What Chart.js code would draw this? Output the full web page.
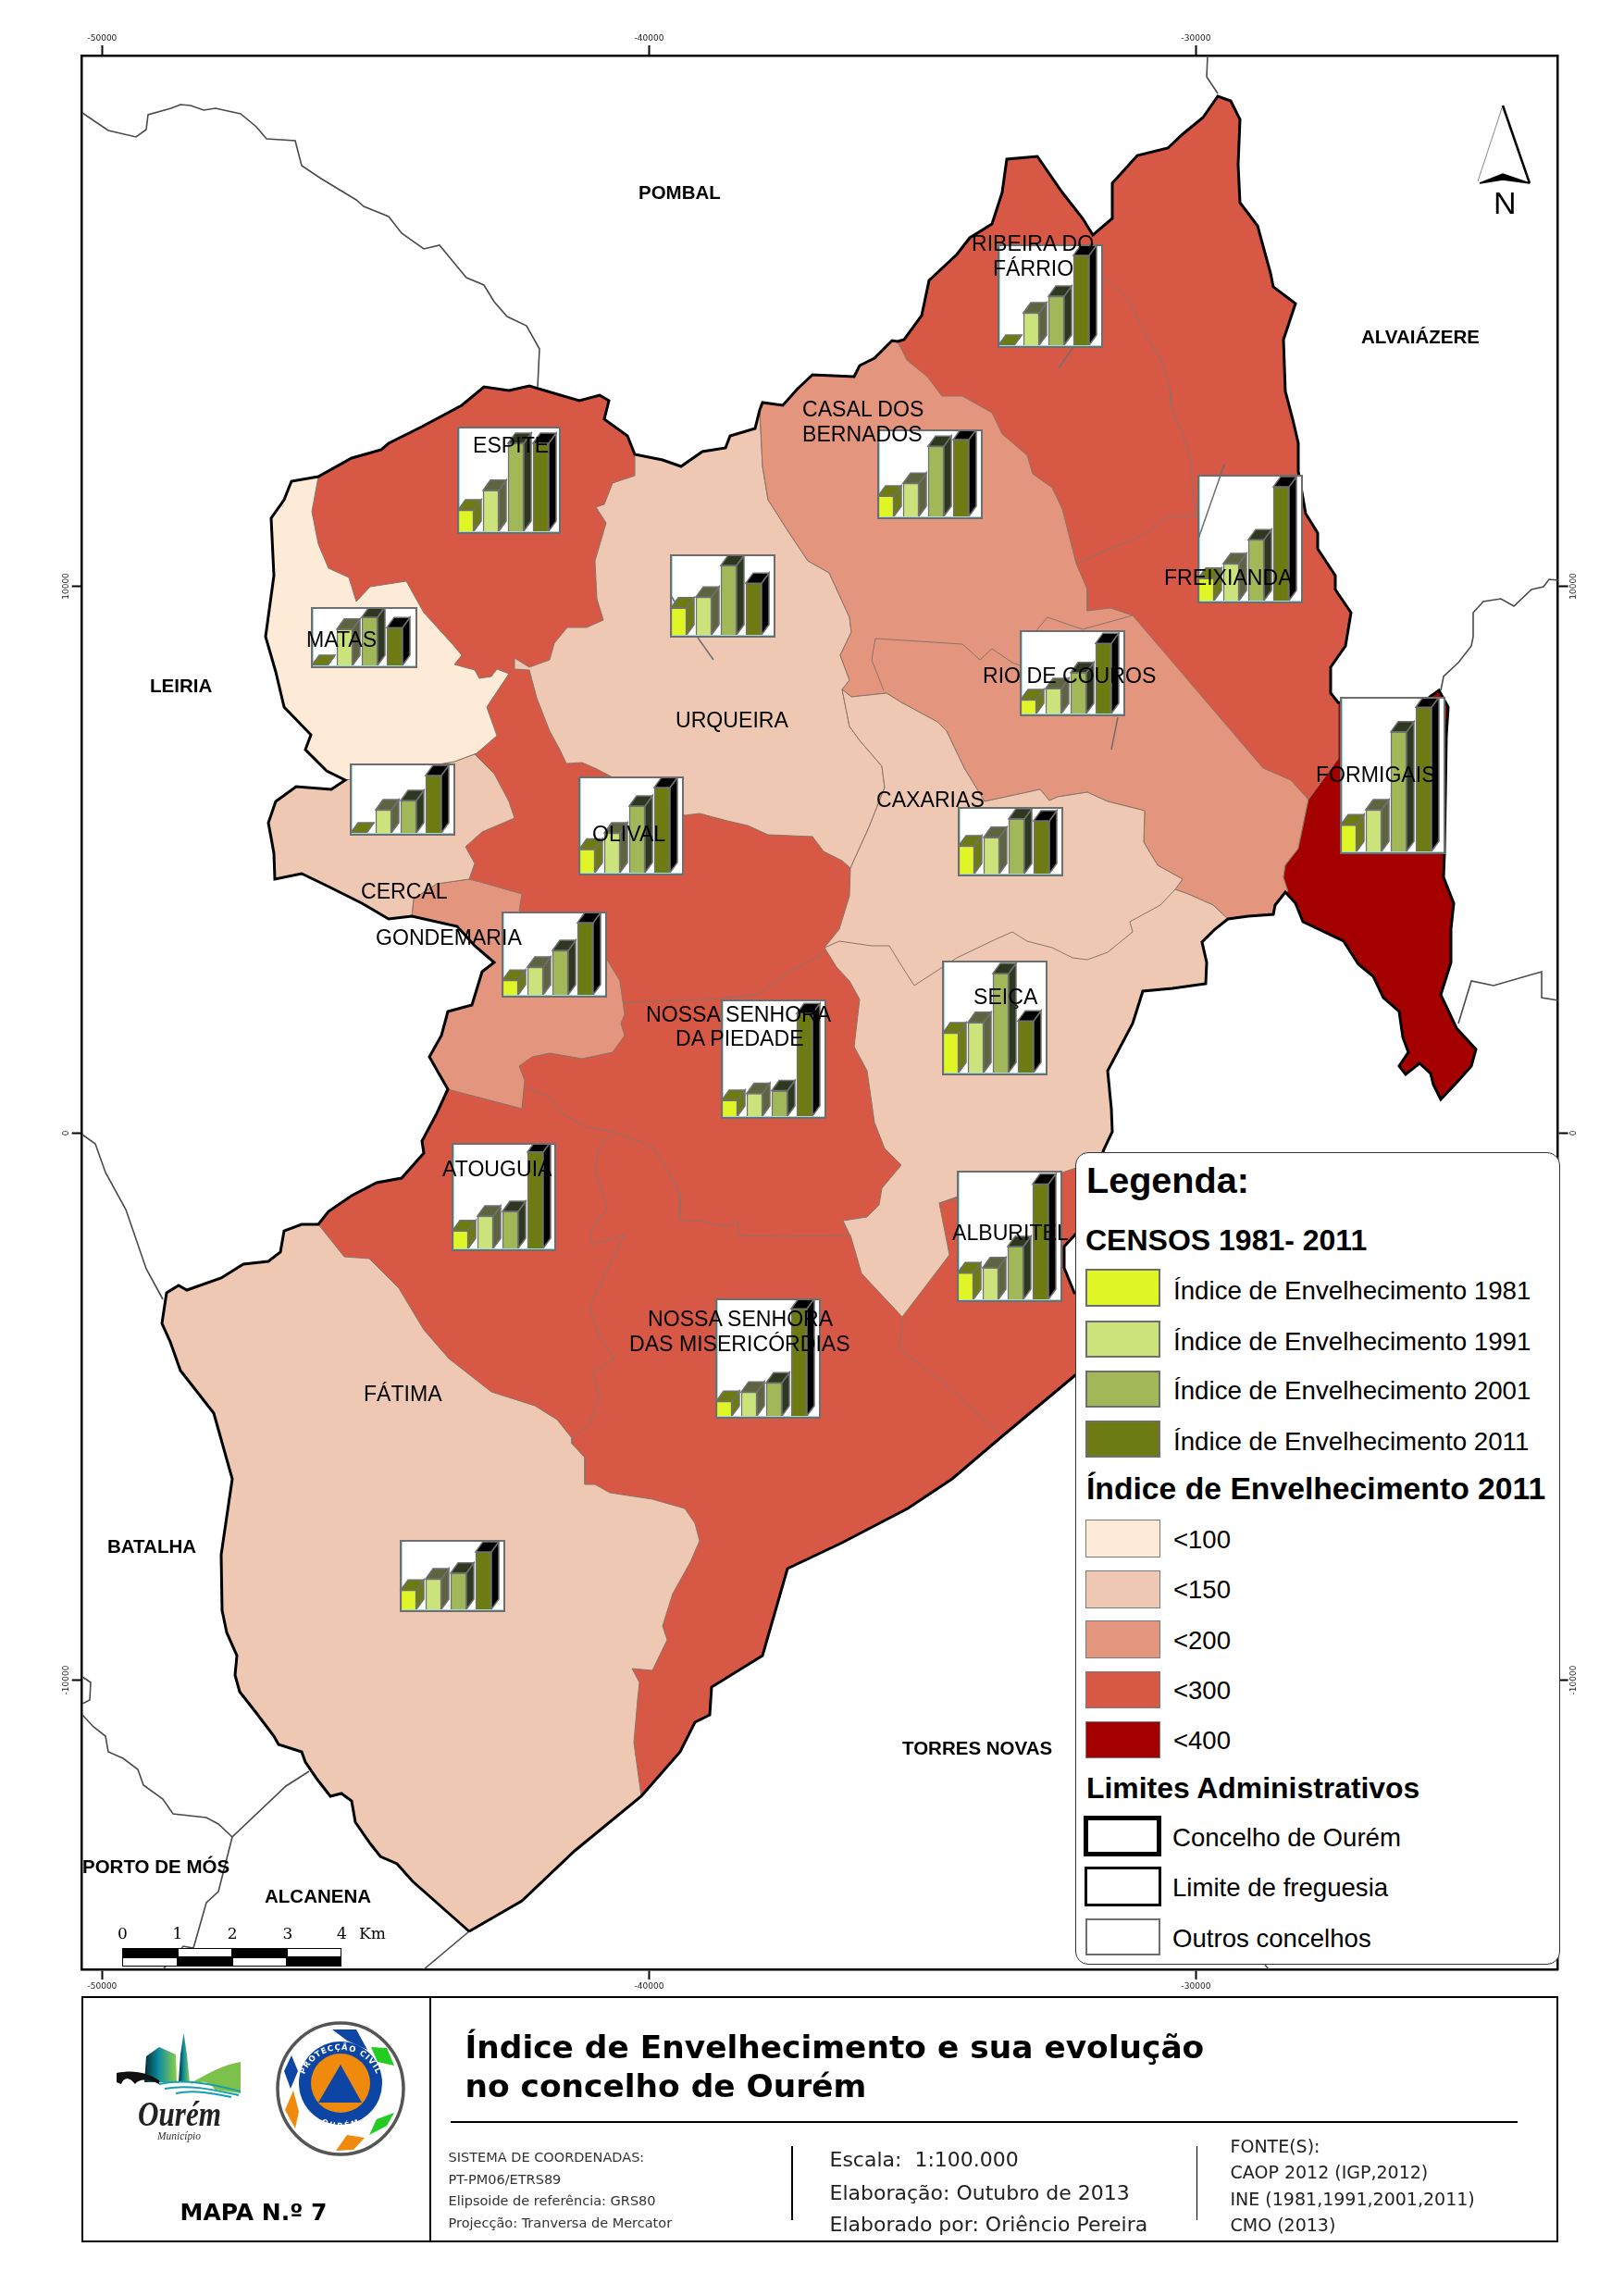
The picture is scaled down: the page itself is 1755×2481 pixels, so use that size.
<!DOCTYPE html>
<html lang="pt">
<head>
<meta charset="utf-8">
<title>Índice de Envelhecimento e sua evolução no concelho de Ourém</title>
<script src="https://cdn.jsdelivr.net/npm/chart.js@4/dist/chart.umd.min.js"></script>
<style>
  html, body { margin: 0; padding: 0; background: #fff; }
  #sheet { position: relative; width: 1755px; height: 2481px; overflow: hidden; background: #fff; }
  #sheet > canvas, #sheet > svg { position: absolute; left: 0; top: 0; }
  .box { position: absolute; box-sizing: border-box; border: 2.5px solid #6e6e6e; background: #fff; box-shadow: inset 1px -1px 0 #9fdcdc; }
  .box canvas { position: absolute; left: -6px; top: 0; }
  .txt { position: absolute; white-space: pre; line-height: 1; color: #000; font-family: "Liberation Sans", Arial, sans-serif; }
  .swatch { position: absolute; box-sizing: border-box; }
  #legend { position: absolute; left: 1162px; top: 1245px; width: 524px; height: 878px; box-sizing: border-box;
    border: 1px solid #333; border-radius: 14px; background: #fff; }
  #titleblock { position: absolute; left: 88px; top: 2157px; width: 1596px; height: 266px; box-sizing: border-box; border: 2.5px solid #000; }
  .rule { position: absolute; background: #000; }
</style>
</head>
<body>
<div id="sheet">
  <canvas id="map" width="1755" height="2481"></canvas>
</div>
<script>
// ---- data ----
const years = ["1981", "1991", "2001", "2011"];
const parishes = ["Espite", "Urqueira", "Matas", "Ribeira do Fárrio", "Casal dos Bernardos", "Freixianda",
  "Rio de Couros", "Formigais", "Cercal", "Olival", "Gondemaria", "Nossa Senhora da Piedade",
  "Atouguia", "Nossa Senhora das Misericórdias", "Caxarias", "Seiça", "Alburitel", "Fátima"];
const index1981 = [55, 70, 0, 0, 53, 58, 36, 69, 0, 61, 38, 41, 46, 38, 72, 103, 69, 50];
const index1991 = [106, 98, 94, 84, 86, 96, 65, 108, 60, 103, 72, 59, 84, 62, 94, 130, 82, 79];
const index2001 = [228, 180, 125, 127, 182, 158, 106, 310, 84, 173, 115, 66, 96, 86, 142, 257, 137, 94];
const index2011 = [228, 134, 98, 233, 199, 295, 182, 374, 149, 221, 187, 266, 250, 278, 137, 134, 299, 149];

const gridTicksX = [-50000, -40000, -30000];
const gridTicksY = [10000, 0, -10000];

const classLabels = ["<100", "<150", "<200", "<300", "<400"];
const classColors = ["#FDEBD8", "#EEC8B2", "#E3967D", "#D85846", "#A50000"];

const yearFront = ["#E0F526", "#CBE37A", "#A2B858", "#6E7A12"];
const yearShade = ["#6E7A12", "#5F6440", "#2E3820", "#000000"];

// digitised boundaries, [x, y] in sheet pixels; toGrid() turns them into map metres
const edgeFatimaW = [[507,2087],[446,2033],[429,2014],[411,2006],[400,1992],[384,1969],[380,1946],[369,1938],[357,1941],[343,1923],[330,1904],[326,1893],[301,1885],[296,1876],[277,1851],[259,1828],[254,1810],[256,1789],[245,1764],[240,1740],[239,1680],[251,1598],[231,1527],[195,1481],[184,1450],[175,1430],[180,1397],[193,1389],[202,1394],[239,1381],[263,1366],[290,1363],[303,1353],[307,1330],[326,1323],[344,1323]];
const edgeAtouguia = [[344,1323],[355,1309],[380,1292],[407,1278],[434,1273],[458,1246],[456,1233],[472,1203],[484,1177]];
const edgeGondemaria = [[484,1177],[464,1142],[477,1119],[484,1093],[510,1086],[521,1050],[534,1040],[513,1022],[494,1001],[445,990]];
const edgeCercal = [[445,990],[420,993],[391,976],[355,958],[326,944],[297,950],[296,922],[290,889],[298,866],[320,850],[358,853],[373,843]];
const edgeMatas = [[373,843],[353,833],[330,810],[336,794],[307,764],[298,726],[287,688],[296,622],[293,560],[307,540],[315,520],[344,515]];
const edgeEspite = [[344,515],[380,495],[412,486],[420,479],[456,461],[499,438],[523,418],[550,422],[572,417],[626,433],[648,427],[658,433],[653,453],[678,471],[686,491]];
const edgeUrqueira = [[686,491],[716,497],[736,504],[759,488],[784,484],[789,471],[816,463],[821,443]];
const edgeCasal = [[821,443],[824,435],[846,438],[862,420],[878,405],[923,407],[929,395],[945,387],[964,368],[970,369]];
const edgeNorth = [[970,369],[977,367],[996,341],[1004,303],[1034,275],[1048,257],[1072,242],[1083,208],[1088,172],[1121,169],[1148,208],[1170,236],[1181,254],[1202,236],[1202,198],[1229,168],[1262,160],[1278,145],[1300,127],[1316,104],[1330,109],[1340,129],[1338,178],[1340,219],[1359,244],[1373,295],[1376,310],[1400,328],[1387,367],[1389,423],[1397,453],[1403,479],[1403,509],[1411,555],[1424,576],[1424,593],[1443,622],[1443,637],[1460,662],[1454,698],[1438,721],[1438,749],[1446,759]];
const edgeFormigais = [[1446,759],[1530,772],[1545,753],[1555,746],[1565,764],[1563,795],[1561,922],[1560,948],[1571,976],[1568,1004],[1568,1040],[1557,1075],[1574,1111],[1595,1134],[1590,1152],[1574,1170],[1557,1188],[1549,1172],[1546,1160],[1534,1149],[1519,1161],[1512,1152],[1522,1137],[1516,1121],[1512,1093],[1495,1078],[1484,1055],[1468,1042],[1452,1017],[1408,996],[1400,976],[1389,964]];
const edgeRio = [[1389,964],[1378,978],[1376,988],[1349,990],[1327,993]];
const edgeSeica = [[1327,993],[1313,1004],[1299,1018],[1304,1040],[1303,1063],[1267,1068],[1235,1071],[1224,1106],[1197,1157],[1201,1198],[1202,1223],[1192,1244]];
const edgeSouth = [[1192,1244],[1210,1290],[1180,1330],[1163,1333],[1150,1347],[1150,1370],[1161,1397],[1180,1400],[1180,1470],[1162,1486],[1083,1552],[1029,1598],[981,1630],[910,1667],[851,1695],[824,1789],[769,1823],[767,1853],[751,1861],[735,1893],[693,1941]];
const edgeFatimaSE = [[693,1941],[621,2000],[564,2054],[507,2087]];

const lineEspiteMatas = [[344,515],[337,553],[344,588],[355,614],[377,624],[385,650],[400,634],[439,628],[458,662],[488,695],[499,708],[491,718],[513,724],[518,733],[531,731],[537,723],[550,728],[526,764],[537,795],[515,814],[491,823],[373,843]];
const lineCercalEast = [[513,815],[534,836],[550,866],[556,884],[521,899],[503,915],[513,933],[507,950],[472,955],[447,971],[445,990]];
const lineGondemariaEast = [[507,950],[526,955],[564,966],[561,984],[656,1037],[670,1060],[675,1096],[671,1106],[675,1119],[662,1137],[629,1144],[594,1138],[575,1142],[561,1152],[567,1167],[564,1198],[484,1177]];
const lineUrqueiraCasal = [[821,443],[824,504],[830,540],[851,573],[873,606],[896,619],[918,667],[920,683],[908,708],[918,735],[910,745]];
const lineUrqueiraCaxarias = [[910,745],[918,785],[929,800],[953,828],[956,851],[939,894],[919,938]];
const lineUrqueiraSouth = [[919,938],[910,930],[890,920],[878,904],[830,902],[808,892],[786,887],[756,879],[740,881],[645,831],[629,824],[612,825],[605,810],[594,790],[580,754],[572,724],[556,723],[556,711],[572,721],[594,713],[599,695],[613,678],[634,678],[652,670],[645,647],[643,606],[655,565],[644,548],[653,545],[662,522],[686,514],[686,491]];
const lineCasalRibeira = [[970,369],[980,389],[1002,407],[1018,428],[1040,428],[1072,446],[1083,469],[1110,492],[1116,512],[1137,527],[1148,550],[1163,609],[1175,637],[1175,660],[1200,657],[1224,665],[1365,830],[1395,843],[1414,864]];
const lineFormigaisWest = [[1389,964],[1392,963],[1387,948],[1389,935],[1403,917],[1414,864],[1446,820],[1446,759]];
const lineRioCaxarias = [[1327,993],[1311,978],[1284,966],[1270,961],[1278,950],[1251,935],[1236,910],[1237,876],[1197,866],[1175,856],[1143,861],[1134,865],[1124,853],[1064,866],[1042,830],[1023,790],[1013,780],[974,759],[958,749],[920,753],[910,745]];
const lineSeicaWest = [[1192,1244],[1175,1258],[1148,1267],[1100,1270],[1015,1300],[1026,1356],[975,1423],[931,1376],[920,1338],[911,1319],[937,1315],[950,1302],[953,1284],[974,1259],[956,1241],[945,1213],[937,1157],[923,1131],[929,1080],[918,1060],[904,1045],[891,1024],[907,1004],[918,968],[919,938]];
const lineCasalRio = [[955,746],[942,713],[946,690],[1040,696],[1059,713],[1072,701],[1094,716],[1110,722]];
const lineRioNorth = [[1110,700],[1121,680],[1132,667],[1170,680],[1224,665]];
const lineCaxariasSeica = [[1270,961],[1254,978],[1221,996],[1224,1007],[1197,1029],[1175,1037],[1159,1035],[1137,1024],[1110,1017],[1094,1007],[1078,1014],[1034,1035],[988,1065],[972,1040],[961,1022],[942,1022],[907,1017],[891,1024]];
const lineRibeiraFreixianda = [[1191,298],[1219,323],[1237,361],[1254,387],[1265,423],[1265,438],[1278,469],[1286,494],[1292,558],[1262,558],[1246,571],[1229,581],[1197,594],[1163,609]];
const lineOlivalPiedade = [[673,1083],[765,1080],[819,1075],[846,1055],[891,1029]];
const lineAtouguiaPiedade = [[567,1175],[594,1185],[607,1203],[634,1218],[662,1223]];
const linePiedadeMisericordias = [[662,1223],[705,1239],[721,1264],[735,1290],[735,1318],[759,1320],[784,1325],[797,1320],[798,1335],[846,1336],[910,1335],[920,1335]];
const lineAtouguiaMisericordias = [[662,1224],[648,1239],[643,1264],[656,1305],[637,1333],[640,1345],[675,1334],[659,1366],[637,1412],[648,1445],[664,1468],[640,1483],[648,1509],[637,1539],[618,1554]];
const lineMisericordiasAlburitel = [[975,1423],[972,1458],[1013,1488],[1083,1552]];
const lineAlburitelEast = [[1015,1300],[1148,1267]];
const lineFatimaEast = [[344,1323],[372,1358],[399,1360],[431,1392],[458,1437],[485,1468],[531,1504],[578,1519],[602,1534],[618,1554],[618,1560],[632,1575],[632,1604],[643,1604],[659,1613],[705,1620],[740,1630],[751,1646],[756,1665],[746,1688],[727,1722],[716,1757],[721,1772],[705,1805],[683,1803],[691,1818],[689,1837],[685,1883],[693,1941]];

const neighbourLines = [
  [[89,122],[117,141],[147,148],[158,140],[160,124],[185,117],[195,113],[206,114],[220,119],[233,117],[260,123],[277,137],[288,150],[319,152],[326,179],[347,193],[385,216],[393,223],[420,234],[434,252],[458,269],[475,265],[494,288],[504,300],[523,308],[534,326],[548,342],[569,352],[583,377],[581,418]],
  [[1305,60],[1304,83],[1316,101]],
  [[1684,627],[1674,626],[1668,634],[1655,637],[1636,655],[1622,647],[1603,650],[1592,662],[1592,688],[1590,698],[1576,716],[1560,731],[1557,746]],
  [[1576,1106],[1590,1060],[1614,1065],[1666,1050],[1666,1078],[1684,1081]],
  [[89,1226],[103,1236],[114,1267],[136,1307],[158,1371],[176,1404]],
  [[89,1812],[98,1818],[97,1837],[89,1841]],
  [[89,1853],[101,1866],[114,1876],[117,1893],[133,1900],[149,1912],[155,1929],[176,1944],[187,1960],[223,1964],[236,1971],[251,1985]],
  [[334,1914],[309,1930],[251,1985],[236,2044],[223,2056],[209,2105],[198,2103],[190,2113],[176,2128]],
  [[507,2087],[458,2128]],
  [[1367,2123],[1371,2128]]
];
const leaderLines = [
  [[1323,502],[1295,582]],
  [[1159,376],[1144,398]],
  [[1208,775],[1201,810]],
  [[726,645],[732,655]],
  [[754,689],[771,713]]
];

// ---- sheet <-> map ----
const AREA = { left: 88.7, top: 60, right: 1683.6, bottom: 2128 };
const M_PER_PX = 16.92;
const ORIGIN_X = 110.4 + 50000 / M_PER_PX; // sheet x of grid x = 0
const ORIGIN_Y = 1224.5;                   // sheet y of grid y = 0
function gridX(px) { return (px - ORIGIN_X) * M_PER_PX; }
function gridY(py) { return (ORIGIN_Y - py) * M_PER_PX; }
function toGrid(points) { return points.map(function (p) { return { x: gridX(p[0]), y: gridY(p[1]) }; }); }

function polygon(color, points) {
  return {
    data: toGrid(points.concat([points[0]])), showLine: true, fill: "shape", backgroundColor: color,
    borderColor: "#8a7468", borderWidth: 1, pointRadius: 0, tension: 0
  };
}
function polyline(color, width, points) {
  return { data: toGrid(points), showLine: true, fill: false, borderColor: color, borderWidth: width, pointRadius: 0, tension: 0 };
}
function rev(a) { return a.slice().reverse(); }

const outer = [].concat(edgeFatimaW, edgeAtouguia, edgeGondemaria, edgeCercal, edgeMatas, edgeEspite, edgeUrqueira,
  edgeCasal, edgeNorth, edgeFormigais, edgeRio, edgeSeica, edgeSouth, edgeFatimaSE);

// painted bottom to top, reversed below because Chart.js draws the first dataset last
var layers = [
  polygon(classColors[3], outer),
  polygon(classColors[1], [].concat(edgeFatimaW, lineFatimaEast, edgeFatimaSE)),
  polygon(classColors[2], [].concat(edgeGondemaria, rev(lineCercalEast).slice(0, 5), lineGondemariaEast)),
  polygon(classColors[1], [].concat(edgeCercal, [[491,823]], lineCercalEast)),
  polygon(classColors[0], [].concat(edgeMatas, lineEspiteMatas)),
  polygon(classColors[1], [].concat(edgeUrqueira, lineUrqueiraCasal, lineUrqueiraCaxarias, lineUrqueiraSouth)),
  polygon(classColors[2], [].concat(edgeCasal, lineCasalRibeira, lineFormigaisWest.slice(0, 6).reverse(), edgeRio, lineRioCaxarias, rev(lineUrqueiraCasal))),
  polygon(classColors[1], [].concat(rev(lineRioCaxarias), edgeSeica, lineSeicaWest, rev(lineUrqueiraCaxarias))),
  polygon(classColors[4], [].concat(edgeFormigais, lineFormigaisWest))
];
[lineCasalRio, lineRioNorth, lineCaxariasSeica, lineRibeiraFreixianda, lineOlivalPiedade, lineAtouguiaPiedade,
  linePiedadeMisericordias, lineAtouguiaMisericordias, lineMisericordiasAlburitel, lineAlburitelEast].forEach(function (l) {
  layers.push(polyline("#8a7468", 1, l));
});
neighbourLines.forEach(function (l) { layers.push(polyline("#4a4a4a", 1.6, l)); });
layers.push(polyline("#000000", 3, outer.concat([outer[0]])));

function fixedSide(prop, size) {
  return function (scale) { scale[prop] = size; };
}
function frameAxis(position, range, ticks, extra) {
  var vertical = position === "left" || position === "right";
  var cfg = {
    type: "linear", position: position, min: range[0], max: range[1],
    afterBuildTicks: function (scale) { scale.ticks = ticks.map(function (v) { return { value: v }; }); },
    grid: { drawOnChartArea: false, tickLength: 11, tickWidth: 2, tickColor: "#000" },
    border: { display: true, color: "#000", width: 2.5 },
    ticks: {
      autoSkip: false, color: "#222", font: { family: "DejaVu Sans", size: 9 }, padding: 2,
      callback: function (v) { return String(v); }
    }
  };
  if (vertical) { cfg.ticks.minRotation = 90; cfg.ticks.maxRotation = 90; cfg.ticks.crossAlign = "center"; cfg.ticks.padding = -10; }
  else { cfg.ticks.maxRotation = 0; }
  return Object.assign(cfg, extra);
}
const rangeX = [gridX(AREA.left), gridX(AREA.right)];
const rangeY = [gridY(AREA.bottom), gridY(AREA.top)];

new Chart(document.getElementById("map"), {
  type: "scatter",
  data: { datasets: layers.reverse() },
  options: {
    responsive: false, animation: false, events: [],
    plugins: { legend: { display: false }, tooltip: { enabled: false } },
    scales: {
      x: frameAxis("bottom", rangeX, gridTicksX, { afterFit: fixedSide("height", 2481 - AREA.bottom) }),
      xTop: frameAxis("top", rangeX, gridTicksX, { axis: "x", afterFit: fixedSide("height", AREA.top) }),
      y: frameAxis("left", rangeY, gridTicksY, { afterFit: fixedSide("width", AREA.left) }),
      yRight: frameAxis("right", rangeY, gridTicksY, { axis: "y", afterFit: fixedSide("width", 1755 - AREA.right) })
    }
  }
});

// ---- mini 3D bar charts, one per parish (outer box: left, top, right, bottom) ----
const chartBoxes = [
  [494,461,606,577], [724,599,838,689], [336,656,451,722], [1078,264,1192,376], [948,464,1062,561], [1294,513,1408,652],
  [1102,681,1216,774], [1448,753,1562,923], [378,825,492,903], [625,839,739,946], [542,985,656,1078], [779,1080,893,1209],
  [488,1235,601,1352], [773,1403,887,1533], [1035,872,1149,947], [1018,1038,1132,1162], [1034,1265,1148,1407], [432,1664,546,1742]
];
const UNITS_PER_PX = 2.4;
const DEPTH_X = 8, DEPTH_Y = 11;

const bars3d = {
  id: "bars3d",
  afterDatasetsDraw: function (chart) {
    var ctx = chart.ctx;
    chart.getDatasetMeta(0).data.forEach(function (bar, i) {
      var l = bar.x - bar.width / 2, r = bar.x + bar.width / 2, t = bar.y, b = bar.base;
      ctx.save();
      ctx.fillStyle = yearShade[i];
      ctx.strokeStyle = "#707070";
      ctx.lineWidth = 1.5;
      ctx.beginPath();
      ctx.moveTo(r, t);
      ctx.lineTo(r + DEPTH_X, t - DEPTH_Y);
      ctx.lineTo(r + DEPTH_X, b - DEPTH_Y);
      ctx.lineTo(r, b);
      ctx.closePath();
      ctx.fill();
      ctx.stroke();
      ctx.beginPath();
      ctx.moveTo(l, t);
      ctx.lineTo(l + DEPTH_X, t - DEPTH_Y);
      ctx.lineTo(r + DEPTH_X, t - DEPTH_Y);
      ctx.lineTo(r, t);
      ctx.closePath();
      ctx.fill();
      ctx.stroke();
      ctx.restore();
    });
  }
};

const sheet = document.getElementById("sheet");
parishes.forEach(function (name, i) {
  var b = chartBoxes[i];
  var box = document.createElement("div");
  box.className = "box";
  box.style.cssText = "left:" + b[0] + "px;top:" + b[1] + "px;width:" + (b[2] - b[0]) + "px;height:" + (b[3] - b[1]) + "px";
  var c = document.createElement("canvas");
  var h = b[3] - b[1] - 5;
  c.width = 116; c.height = h;
  box.appendChild(c);
  sheet.appendChild(box);
  new Chart(c, {
    type: "bar",
    data: {
      labels: years,
      datasets: [{
        label: name,
        data: [index1981[i], index1991[i], index2001[i], index2011[i]],
        backgroundColor: yearFront, borderColor: "#707070", borderWidth: 1.5, barThickness: 17
      }]
    },
    options: {
      responsive: false, animation: false, events: [],
      layout: { autoPadding: false, padding: { right: 8 } },
      plugins: { legend: { display: false }, tooltip: { enabled: false } },
      scales: {
        x: { display: false, offset: true },
        y: { display: false, min: 0, max: h * UNITS_PER_PX }
      }
    },
    plugins: [bars3d]
  });
});

// leader lines run over the boxes, so they get a transparent chart of their own on top
const overlay = document.createElement("canvas");
overlay.width = 1755; overlay.height = 2481;
sheet.appendChild(overlay);
new Chart(overlay, {
  type: "scatter",
  data: { datasets: leaderLines.map(function (l) { return polyline("#6e6e6e", 1.5, l); }) },
  options: {
    responsive: false, animation: false, events: [],
    layout: { padding: { left: AREA.left, top: AREA.top, right: 1755 - AREA.right, bottom: 2481 - AREA.bottom } },
    plugins: { legend: { display: false }, tooltip: { enabled: false } },
    scales: {
      x: { display: false, min: rangeX[0], max: rangeX[1] },
      y: { display: false, min: rangeY[0], max: rangeY[1] }
    }
  }
});

// ---- text helpers: x is the left edge, y the baseline ----
function text(parent, str, x, y, size, opts) {
  opts = opts || {};
  var d = document.createElement("div");
  d.className = "txt";
  d.textContent = str;
  d.style.left = x + "px";
  d.style.top = (y - size * 0.8465) + "px";
  d.style.fontSize = size + "px";
  if (opts.bold) d.style.fontWeight = "bold";
  if (opts.family) d.style.fontFamily = opts.family;
  if (opts.color) d.style.color = opts.color;
  if (opts.spacing) d.style.letterSpacing = opts.spacing + "px";
  parent.appendChild(d);
  return d;
}
function swatch(parent, x0, y0, x1, y1, fill, border) {
  var d = document.createElement("div");
  d.className = "swatch";
  d.style.cssText = "left:" + x0 + "px;top:" + y0 + "px;width:" + (x1 - x0) + "px;height:" + (y1 - y0) + "px;background:" + fill + ";border:" + border;
  parent.appendChild(d);
}
function rule(parent, x0, y0, w, h) {
  var d = document.createElement("div");
  d.className = "rule";
  d.style.cssText = "left:" + x0 + "px;top:" + y0 + "px;width:" + w + "px;height:" + h + "px";
  parent.appendChild(d);
}

// parish labels
[["RIBEIRA DO",1050,272],["FÁRRIO",1073,299],["CASAL DOS",867,451],["BERNADOS",867,478],["ESPITE",511,490],["MATAS",331,700],
 ["FREIXIANDA",1258,633],["RIO DE COUROS",1062,739],["FORMIGAIS",1422,846],["CAXARIAS",947,873],["URQUEIRA",730,787],["OLIVAL",640,910],
 ["CERCAL",390,972],["GONDEMARIA",406,1022],["NOSSA SENHORA",698,1105],["DA PIEDADE",730,1131],["SEIÇA",1052,1086],["ATOUGUIA",478,1272],
 ["ALBURITEL",1029,1341],["NOSSA SENHORA",700,1434],["DAS MISERICÓRDIAS",680,1461],["FÁTIMA",393,1515]
].forEach(function (t) { text(sheet, t[0], t[1], t[2], 23.1); });

// neighbouring municipalities
[["POMBAL",690,215],["ALVAIÁZERE",1471,371],["LEIRIA",162,748],["BATALHA",116,1678],["PORTO DE MÓS",89,2024],["ALCANENA",286,2056],["TORRES NOVAS",975,1896]
].forEach(function (t) { text(sheet, t[0], t[1], t[2], 20.5, { bold: true }); });

// ---- legend ----
const legendBox = document.createElement("div");
legendBox.id = "legend";
sheet.appendChild(legendBox);
const LX = 1163, LY = 1246; // legend inner origin
function lt(str, x, y, size, bold) { text(legendBox, str, x - LX, y - LY, size, { bold: bold }); }
function ls(x0, y0, x1, y1, fill, border) { swatch(legendBox, x0 - LX, y0 - LY, x1 - LX, y1 - LY, fill, border); }

lt("Legenda:", 1174, 1290, 39.6, true);
lt("CENSOS 1981- 2011", 1173, 1351, 32, true);
[[1371,1412,1404],[1427,1467,1459],[1481,1521,1512],[1535,1575,1567]].forEach(function (r, i) {
  ls(1173, r[0], 1254, r[1], yearFront[i], "2.5px solid #6e6e6e");
  lt("Índice de Envelhecimento " + years[i], 1268, r[2], 27.7, false);
});
lt("Índice de Envelhecimento 2011", 1174, 1621, 33.7, true);
[[1642,1683,1673],[1697,1738,1727],[1751,1792,1782],[1806,1846,1836],[1860,1900,1890]].forEach(function (r, i) {
  ls(1173, r[0], 1254, r[1], classColors[i], "1px solid #7a7a7a");
  lt(classLabels[i], 1268, r[2], 27.5, false);
});
lt("Limites Administrativos", 1174, 1944, 31.9, true);
ls(1171, 1962, 1255, 2006, "#fff", "5px solid #000");
lt("Concelho de Ourém", 1267, 1995, 27.6, false);
ls(1172, 2017, 1255, 2060, "#fff", "3px solid #000");
lt("Limite de freguesia", 1267, 2049, 27.6, false);
ls(1173, 2073, 1254, 2113, "#fff", "2px solid #6e6e6e");
lt("Outros concelhos", 1267, 2104, 27.6, false);

// ---- scale bar and north arrow ----
const cuts = [132, 191.6, 250.8, 310.4, 369];
cuts.slice(0, 4).forEach(function (x, i) {
  swatch(sheet, x, 2105, cuts[i + 1], 2115, i % 2 ? "#fff" : "#000", "1px solid #000");
  swatch(sheet, x, 2115, cuts[i + 1], 2125, i % 2 ? "#000" : "#fff", "1px solid #000");
});
["0", "1", "2", "3", "4"].forEach(function (s, i) {
  text(sheet, s, cuts[i] - 5, 2095, 17, { family: "DejaVu Serif" });
});
text(sheet, "Km", 388, 2095, 17, { family: "DejaVu Serif" });
text(sheet, "N", 1614, 231, 34);

// ---- title block ----
const block = document.createElement("div");
block.id = "titleblock";
sheet.appendChild(block);
const BX = 90.5, BY = 2159.5;
function bt(str, x, y, size, opts) { text(block, str, x - BX, y - BY, size, opts); }
rule(block, 464 - BX, 2157 - BY, 2.5, 266);
rule(block, 487 - BX, 2292 - BY, 1153, 2.5);
rule(block, 855.5 - BX, 2319 - BY, 1.8, 80);
rule(block, 1293 - BX, 2319 - BY, 1.8, 80);
const dj = "DejaVu Sans";
bt("Índice de Envelhecimento e sua evolução", 503, 2225, 34.4, { bold: true, family: dj });
bt("no concelho de Ourém", 503, 2267, 34.4, { bold: true, family: dj });
bt("MAPA N.º 7", 195, 2400, 25, { bold: true, family: dj });
bt("SISTEMA DE COORDENADAS:", 485, 2337, 14.5, { family: dj, color: "#333" });
bt("PT-PM06/ETRS89", 485, 2361, 14.5, { family: dj, color: "#333" });
bt("Elipsoide de referência: GRS80", 485, 2384, 14.5, { family: dj, color: "#333" });
bt("Projecção: Tranversa de Mercator", 485, 2408, 14.5, { family: dj, color: "#333" });
bt("Escala:  1:100.000", 897, 2342, 22, { family: dj, color: "#222" });
bt("Elaboração: Outubro de 2013", 897, 2378, 22, { family: dj, color: "#222" });
bt("Elaborado por: Oriêncio Pereira", 897, 2412, 22, { family: dj, color: "#222" });
bt("FONTE(S):", 1330, 2327, 19, { family: dj, color: "#222" });
bt("CAOP 2012 (IGP,2012)", 1330, 2355, 19, { family: dj, color: "#222" });
bt("INE (1981,1991,2001,2011)", 1330, 2384, 19, { family: dj, color: "#222" });
bt("CMO (2013)", 1330, 2412, 19, { family: dj, color: "#222" });

// logos and arrow are plain drawings, not data
const svgNS = "http://www.w3.org/2000/svg";
const art = document.createElementNS(svgNS, "svg");
art.setAttribute("width", "1755");
art.setAttribute("height", "2481");
art.innerHTML =
  '<defs><linearGradient id="town" x1="0" x2="1" y1="0" y2="0">' +
  '<stop offset="0" stop-color="#062a33"/><stop offset=".45" stop-color="#0e8ea0"/><stop offset="1" stop-color="#8fce45"/></linearGradient>' +
  '<path id="ringTop" d="M326 2257 A42 42 0 0 1 410 2257"/><path id="ringBottom" d="M336 2275 A38 38 0 0 0 400 2275"/></defs>' +
  // north arrow
  '<path d="M1624 114 L1597 196" stroke="#888" stroke-width="1" fill="none"/>' +
  '<path d="M1624 114 L1653 198" stroke="#000" stroke-width="2.5" fill="none"/>' +
  '<path d="M1599 198 L1624 188 L1653 198 L1624 194 Z" fill="#000" stroke="#000" stroke-width="1.5"/>' +
  // Ourém logo
  '<path d="M156 2250 L158 2222 L172 2212 L190 2220 L191 2250 Z" fill="url(#town)"/>' +
  '<path d="M193 2250 L195 2220 L198.5 2197 L202 2220 L205 2250 Z" fill="url(#town)"/>' +
  '<path d="M126 2240 C145 2236 160 2240 172 2248 L172 2252 C160 2246 150 2246 146 2252 C140 2244 134 2244 131 2252 L126 2250 Z" fill="#111"/>' +
  '<path d="M205 2252 C225 2240 240 2232 260 2228 L260 2262 L232 2258 C225 2246 215 2250 205 2252 Z" fill="#7cc24a"/>' +
  '<path d="M172 2252 C200 2246 230 2252 260 2260 M178 2257 C205 2252 230 2258 258 2264 M190 2262 C210 2258 230 2262 250 2266" stroke="#159fae" stroke-width="2" fill="none"/>' +
  // Proteccao Civil badge
  '<ellipse cx="368" cy="2257" rx="68" ry="71" fill="#fff" stroke="#555" stroke-width="3.5"/>' +
  '<circle cx="368" cy="2251" r="45" fill="#0d45a5"/><circle cx="368" cy="2251" r="32" fill="#f08a0c"/>' +
  '<path d="M368 2231 L344 2272 L391 2272 Z" fill="#0d45a5"/>' +
  '<path d="M359 2193 L385 2193 L397 2215 L375 2205 Z" fill="#0d45a5"/>' +
  '<path d="M401 2212 L418 2213 L426 2232 L408 2228 Z" fill="#22cc22"/>' +
  '<path d="M315 2221 L322 2238 L314 2257 L307 2238 Z" fill="#0d45a5"/>' +
  '<path d="M317 2259 L323 2282 L319 2300 L308 2280 Z" fill="#f08a0c"/>' +
  '<path d="M426 2283 L418 2297 L399 2307 L407 2290 Z" fill="#22cc22"/>' +
  '<path d="M375 2307 L394 2310 L382 2323 L363 2324 Z" fill="#f08a0c"/>' +
  '<text font-family="DejaVu Sans" font-weight="bold" font-size="8.5" fill="#fff" letter-spacing="1"><textPath href="#ringTop" startOffset="50%" text-anchor="middle">PROTECÇÃO CIVIL</textPath></text>' +
  '<text font-family="DejaVu Sans" font-weight="bold" font-size="8" fill="#fff" letter-spacing="1" dy="7"><textPath href="#ringBottom" startOffset="50%" text-anchor="middle">OURÉM</textPath></text>' +
  '<text x="149" y="2297" font-family="Liberation Serif" font-style="italic" font-weight="bold" font-size="38" fill="#222" textLength="90" lengthAdjust="spacingAndGlyphs">Ourém</text>' +
  '<text x="170" y="2312" font-family="Liberation Serif" font-style="italic" font-size="13" fill="#333" textLength="47" lengthAdjust="spacingAndGlyphs">Município</text>';
sheet.appendChild(art);
art.style.pointerEvents = "none";
</script>
</body>
</html>
